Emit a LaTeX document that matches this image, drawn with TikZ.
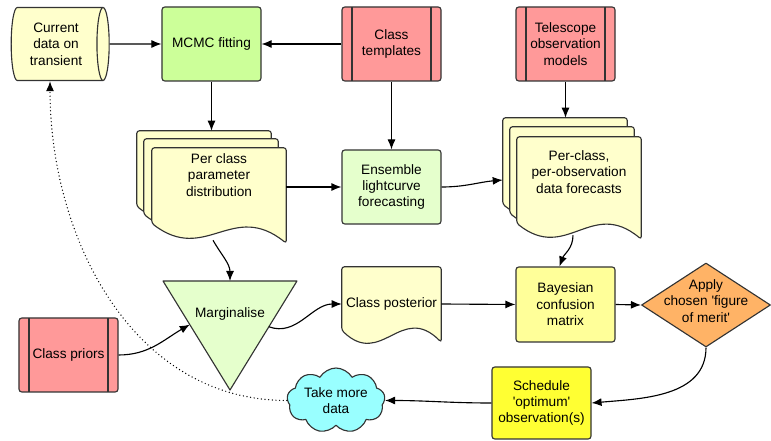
\documentclass[tikz,border=0pt]{standalone}
\usepackage{fontspec}
\setmainfont{Liberation Sans}
\usetikzlibrary{arrows.meta,calc,positioning,shapes.geometric,shapes.symbols,backgrounds}
\definecolor{edgegray}{RGB}{51,51,51}
\definecolor{datayellow}{RGB}{255,255,204}
\definecolor{fitgreen}{RGB}{204,255,153}
\definecolor{palegreen}{RGB}{229,255,204}
\definecolor{priorpink}{RGB}{255,153,153}
\definecolor{matrixyellow}{RGB}{255,255,153}
\definecolor{meritorange}{RGB}{255,179,102}
\definecolor{schedyellow}{RGB}{255,255,51}
\definecolor{cloudcyan}{RGB}{153,255,255}
\tikzset{
  box/.style={draw=edgegray,line width=0.8pt,rounded corners=2pt,align=center,
    minimum width=2.475cm,minimum height=1.85cm,inner sep=1pt},
  store/.style={box,fill=priorpink,path picture={
      \draw[edgegray,line width=0.8pt]
        ([xshift=0.25cm]path picture bounding box.north west) -- ([xshift=0.25cm]path picture bounding box.south west)
        ([xshift=-0.25cm]path picture bounding box.north east) -- ([xshift=-0.25cm]path picture bounding box.south east);}},
  doc/.style={align=center,inner sep=0pt},
  pageline/.style={draw=edgegray,line width=0.8pt,fill=datayellow,rounded corners=2pt},
  flow/.style={-{Latex[length=2.5mm,width=2mm]},line width=0.8pt},
}
% one page of a document shape round a text node: node, offset, left and right drop
\newcommand{\docpage}[4]{%
  \draw[pageline]
    ($(#1.north west)+(#2)$) -- ($(#1.north east)+(#2)$)
    -- ($(#1.south east)+(#2)+(0,{-(#4)})$)
    .. controls ($(#1.south east)!0.4!(#1.south west)+(#2)+(0,{35-0.6*(#4)-0.4*(#3)})$)
    and ($(#1.south east)!0.6!(#1.south west)+(#2)+(0,{-33-0.4*(#4)-0.6*(#3)})$)
    .. ($(#1.south west)+(#2)+(0,{-(#3)})$) -- cycle;}

\begin{document}
\begin{tikzpicture}[x=0.25mm,y=0.25mm,font=\fontsize{9.7}{11.7}\selectfont,line join=round]
\useasboundingbox (0,0) rectangle (771,-441);

% top row
\node[box,cylinder,sharp corners,shape aspect=0.27,fill=datayellow,
  minimum height=2.45cm,minimum width=1.825cm] (data) at (56,-44) {Current\\data on\\transient};
\node[box,fill=fitgreen] (mcmc) at (211.5,-44) {MCMC fitting};
\node[store] (templates) at (391.5,-44) {Class\\templates};
\node[store] (telescope) at (565.5,-44) {Telescope\\observation\\models};

% middle row
\node[doc,minimum width=3.35cm,minimum height=1.35cm] (params) at (219,-175)
  {Per class\\parameter\\distribution};
\node[box,fill=palegreen] (ensemble) at (391.5,-187) {Ensemble\\lightcurve\\forecasting};
\node[doc,minimum width=3.1cm,minimum height=1.75cm] (forecasts) at (579,-172)
  {Per-class,\\per-observation\\data forecasts};

% bottom rows
\coordinate (margnw) at (163,-281);
\coordinate (margne) at (297,-281);
\coordinate (margtip) at (230,-390);
\draw[draw=edgegray,line width=0.8pt,fill=palegreen] (margnw) -- (margne) -- (margtip) -- cycle;
\node (marg) at (230,-314) {Marginalise};
\node[doc,minimum width=2.475cm,minimum height=1.85cm] (posterior) at (391.5,-304) {Class posterior};
\node[box,fill=matrixyellow,minimum height=1.875cm] (confusion) at (565.5,-304.5) {Bayesian\\confusion\\matrix};
\node[diamond,draw=edgegray,line width=0.8pt,fill=meritorange,minimum width=3.225cm,
  minimum height=2.1cm,inner sep=0pt,
  label={[align=center,yshift=1mm]center:Apply\\chosen \textquotesingle figure\\of merit\textquotesingle}] (merit) at (706,-305) {};
\node[store] (priors) at (68.5,-355) {Class priors};
\node[cloud,cloud puffs=9,cloud puff arc=120,aspect=1.5,draw=edgegray,line width=0.8pt,
  fill=cloudcyan,minimum width=2.45cm,minimum height=1.625cm,inner sep=0pt,
  label={[align=center]center:Take more\\data}] (more) at (336,-400.5) {};
\node[box,fill=schedyellow,minimum height=1.8cm] (schedule) at (541.5,-403)
  {Schedule\\\textquotesingle optimum\textquotesingle\\observation(s)};

\begin{scope}[on background layer]
  \foreach \dx/\dy in {-15/17,-8/9,0/0} {\docpage{params}{\dx,\dy}{21}{41}}
  \foreach \dx/\dy in {-14/19,-7/10,0/0} {\docpage{forecasts}{\dx,\dy}{16}{32}}
  \docpage{posterior}{0,0}{-11}{1}
\end{scope}

% connectors
\draw[flow] (data.east) -- (mcmc.west);
\draw[flow] (templates.west) -- (mcmc.east);
\draw[flow] (mcmc.south) -- ($(mcmc.south |- params.north)+(0,17)$);
\draw[flow] (templates.south) -- (ensemble.north);
\draw[flow] (telescope.south) -- ($(telescope.south |- forecasts.north)+(0,19)$);
\draw[flow] (ensemble.west -| params.east) -- (ensemble.west);
\draw[flow] (ensemble.east) to[out=0,in=185] ($(forecasts.west)+(-14,-8)$);
\draw[flow] ($(forecasts.south)+(-6,-28)$) to[out=-90,in=70] ($(confusion.north)+(-6,0)$);
\draw[flow] ($(params.south)+(-6,-38)$) to[out=-60,in=90] ($(margnw)!0.5!(margne)$);
\draw[flow] (priors.east) to[out=0,in=210] ($(margnw)!0.4!(margtip)$);
\draw[flow] ($(margne)!0.42!(margtip)$) to[out=-20,in=180] (posterior.west);
\draw[flow] (posterior.east) -- (confusion.west);
\draw[flow] (confusion.east) -- (merit.west);
\draw[flow] (merit.south) to[out=-90,in=5] (schedule.east);
\draw[flow] (schedule.west) to[out=180,in=0] (more.east);
\draw[flow,line width=1pt,line cap=round,dash pattern=on 0pt off 2.6pt] (more.west) to[out=180,in=-90] ($(data.south)+(-6,0)$);
\end{tikzpicture}
\end{document}
